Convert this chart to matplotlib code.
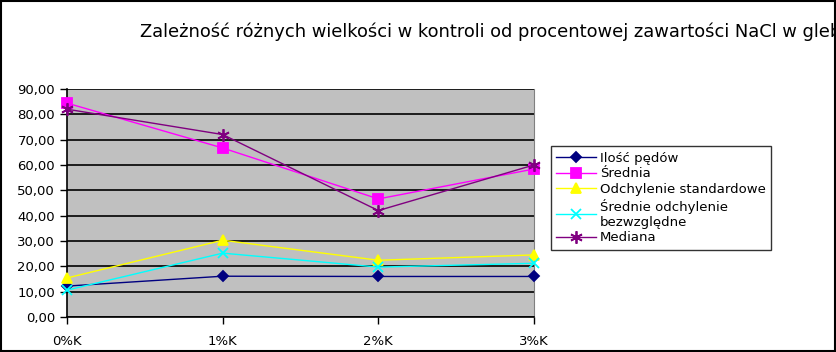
import matplotlib.pyplot as plt
from matplotlib.patches import Rectangle

kategorie = ["0%K", "1%K", "2%K", "3%K"]
ilosc_pedow = [12.2, 16.1, 16.0, 16.0]
srednia = [84.4, 66.7, 46.6, 58.4]
odchylenie = [15.4, 30.3, 22.4, 24.5]
odch_bezwzgl = [10.6, 25.2, 19.7, 21.2]
mediana = [82.0, 72.0, 42.0, 60.0]

etykiety = ["Ilość pędów", "Średnia", "Odchylenie standardowe",
            "Średnie odchylenie\nbezwzględne", "Mediana"]
kolory = ["#000080", "#FF00FF", "#FFFF00", "#00FFFF", "#800080"]
znaczniki = ["D", "s", "^", "x", (6, 2, 0)]
rozmiary = [5, 7, 7, 7, 9]

fig = plt.figure(figsize=(8.37, 3.52), dpi=100)
ax = fig.add_axes([0.080, 0.0994, 0.558, 0.648])
ax.set_facecolor("#C0C0C0")

x = range(len(kategorie))
serie = [ilosc_pedow, srednia, odchylenie, odch_bezwzgl, mediana]
for dane, et, kol, zn, rm in zip(serie, etykiety, kolory, znaczniki, rozmiary):
    ax.plot(x, dane, color=kol, marker=zn, markersize=rm, linewidth=1,
            markeredgewidth=1.3, label=et, zorder=3, clip_on=False)

ax.set_xlim(0, 3)
ax.set_ylim(0, 90)
ax.set_yticks(range(0, 91, 10))
ax.set_yticklabels([f"{v},00" for v in range(0, 91, 10)])
ax.set_xticks(list(x))
ax.set_xticklabels(kategorie)
ax.yaxis.grid(True, color="black", linewidth=1.2)
ax.set_axisbelow(True)
ax.tick_params(labelsize=9.5, length=5, width=1, colors="black")
ax.tick_params(axis="x", pad=8)
ax.spines["right"].set_color("#808080")
ax.spines["top"].set_visible(False)
for s in ["left", "bottom"]:
    ax.spines[s].set_linewidth(1.2)

fig.text(140 / 837, 1 - 32 / 352, "Zależność różnych wielkości w kontroli od procentowej zawartości NaCl w glebie",
         fontsize=12.9, va="center", ha="left")

leg = fig.legend(loc="center left", bbox_to_anchor=(551 / 837, 1 - 198 / 352),
                 fontsize=9.5, frameon=True, fancybox=False, edgecolor="black",
                 borderpad=0.4, handlelength=3, labelspacing=0.2, handletextpad=0.3,
                 borderaxespad=0)
leg.get_frame().set_linewidth(1)

fig.patches.append(Rectangle((0.001, 0.002), 0.997, 0.996, transform=fig.transFigure,
                             fill=False, edgecolor="black", linewidth=1.5, zorder=10))

fig.savefig("out.png", dpi=100)
